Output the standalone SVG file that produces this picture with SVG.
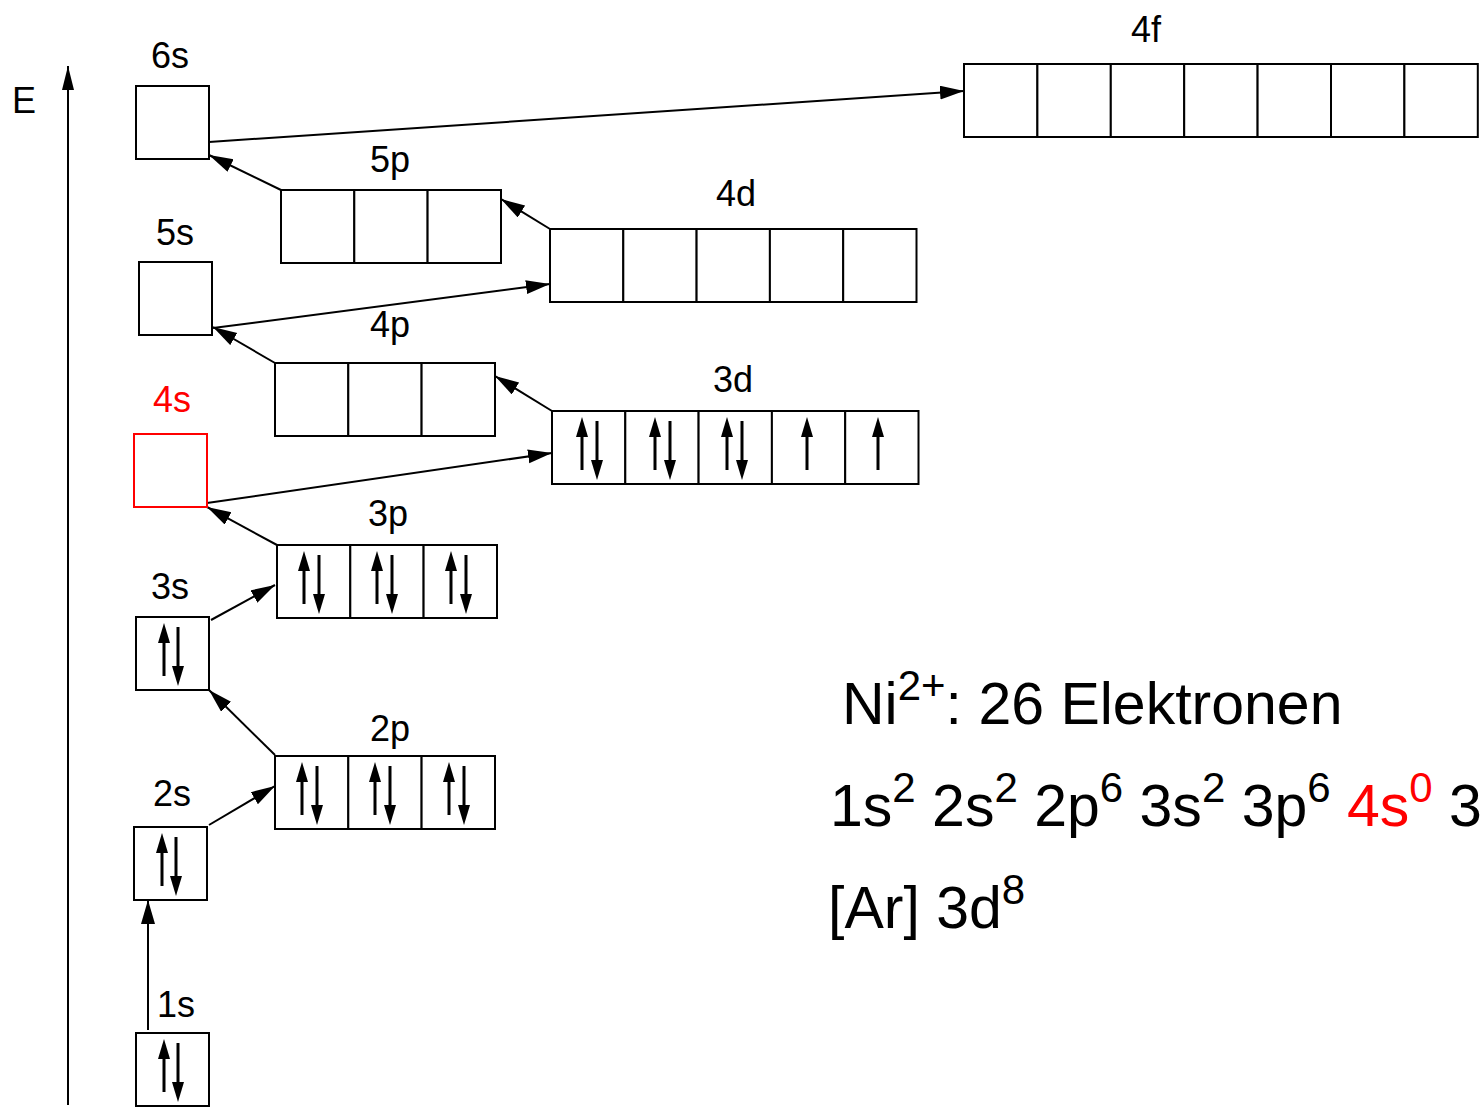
<svg xmlns="http://www.w3.org/2000/svg" xmlns:xlink="http://www.w3.org/1999/xlink" width="1483" height="1108" viewBox="0 0 1483 1108">
<style>
text{font-family:"Liberation Sans",Arial,sans-serif;fill:#000}
.lbl{font-size:36px;text-anchor:middle}
.big{font-size:59px}
.sup{font-size:42px}
.red{fill:#ff0000}
.cell{fill:#fff;stroke:#000;stroke-width:2}
.rcell{fill:#fff;stroke:#ff0000;stroke-width:2}
.con{stroke:#000;stroke-width:2;fill:none}
.spin{stroke:#000;stroke-width:3;fill:none}
</style>
<defs>
<marker id="ah" markerUnits="userSpaceOnUse" markerWidth="26" markerHeight="16" refX="24" refY="7" orient="auto">
<path d="M0,0 L24,7 L0,14 Z" fill="#000"/>
</marker>
<marker id="axh" markerUnits="userSpaceOnUse" markerWidth="26" markerHeight="14" refX="24" refY="6" orient="auto">
<path d="M0,0 L24,6 L0,12 Z" fill="#000"/>
</marker>
<symbol id="up" overflow="visible">
<line class="spin" x1="0" y1="59" x2="0" y2="22"/>
<path d="M0,6 L-6,26 L6,26 Z" fill="#000"/>
</symbol>
<symbol id="dn" overflow="visible">
<line class="spin" x1="0" y1="10" x2="0" y2="52"/>
<path d="M0,69 L-6,49 L6,49 Z" fill="#000"/>
</symbol>
</defs>

<g id="axis">
<line class="con" x1="68" y1="1105" x2="68" y2="66" marker-end="url(#axh)"/>
<text x="12" y="113" style="font-size:36px">E</text>
</g>

<g id="connectors">
<line class="con" x1="148" y1="1030" x2="148" y2="900" marker-end="url(#ah)"/>
<line class="con" x1="209" y1="825" x2="275" y2="786" marker-end="url(#ah)"/>
<line class="con" x1="275" y1="755" x2="209" y2="690" marker-end="url(#ah)"/>
<line class="con" x1="211" y1="620" x2="275" y2="585" marker-end="url(#ah)"/>
<line class="con" x1="277" y1="545" x2="207" y2="507" marker-end="url(#ah)"/>
<line class="con" x1="207" y1="503" x2="552" y2="453" marker-end="url(#ah)"/>
<line class="con" x1="552" y1="411" x2="495" y2="376" marker-end="url(#ah)"/>
<line class="con" x1="275" y1="363" x2="213" y2="327" marker-end="url(#ah)"/>
<line class="con" x1="213" y1="328" x2="550" y2="284" marker-end="url(#ah)"/>
<line class="con" x1="550" y1="229" x2="501" y2="199" marker-end="url(#ah)"/>
<line class="con" x1="281" y1="190" x2="209" y2="155" marker-end="url(#ah)"/>
<line class="con" x1="209" y1="142" x2="964" y2="91" marker-end="url(#ah)"/>
</g>

<g id="n1s">
<rect class="cell" x="136" y="1033" width="73" height="73"/>
<use xlink:href="#up" x="164" y="1033"/><use xlink:href="#dn" x="178" y="1033"/>
<text class="lbl" x="176" y="1017">1s</text>
</g>

<g id="n2s">
<rect class="cell" x="134" y="827" width="73" height="73"/>
<use xlink:href="#up" x="162" y="827"/><use xlink:href="#dn" x="176" y="827"/>
<text class="lbl" x="172" y="806">2s</text>
</g>

<g id="n2p">
<rect class="cell" x="275" y="756" width="73.3" height="73"/>
<rect class="cell" x="348.3" y="756" width="73.3" height="73"/>
<rect class="cell" x="421.6" y="756" width="73.4" height="73"/>
<use xlink:href="#up" x="302" y="756"/><use xlink:href="#dn" x="317" y="756"/>
<use xlink:href="#up" x="375" y="756"/><use xlink:href="#dn" x="390" y="756"/>
<use xlink:href="#up" x="449" y="756"/><use xlink:href="#dn" x="464" y="756"/>
<text class="lbl" x="390" y="741">2p</text>
</g>

<g id="n3s">
<rect class="cell" x="136" y="617" width="73" height="73"/>
<use xlink:href="#up" x="164" y="617"/><use xlink:href="#dn" x="178" y="617"/>
<text class="lbl" x="170" y="599">3s</text>
</g>

<g id="n3p">
<rect class="cell" x="277" y="545" width="73.3" height="73"/>
<rect class="cell" x="350.3" y="545" width="73.3" height="73"/>
<rect class="cell" x="423.6" y="545" width="73.4" height="73"/>
<use xlink:href="#up" x="304" y="545"/><use xlink:href="#dn" x="319" y="545"/>
<use xlink:href="#up" x="377" y="545"/><use xlink:href="#dn" x="392" y="545"/>
<use xlink:href="#up" x="451" y="545"/><use xlink:href="#dn" x="466" y="545"/>
<text class="lbl" x="388" y="526">3p</text>
</g>

<g id="n4s">
<rect class="rcell" x="134" y="434" width="73" height="73"/>
<text class="lbl red" x="172" y="412">4s</text>
</g>

<g id="n3d">
<rect class="cell" x="552" y="411" width="73.3" height="73"/>
<rect class="cell" x="625.3" y="411" width="73.3" height="73"/>
<rect class="cell" x="698.6" y="411" width="73.3" height="73"/>
<rect class="cell" x="771.9" y="411" width="73.3" height="73"/>
<rect class="cell" x="845.2" y="411" width="73.3" height="73"/>
<use xlink:href="#up" x="582" y="411"/><use xlink:href="#dn" x="597" y="411"/>
<use xlink:href="#up" x="655" y="411"/><use xlink:href="#dn" x="670" y="411"/>
<use xlink:href="#up" x="727" y="411"/><use xlink:href="#dn" x="742" y="411"/>
<use xlink:href="#up" x="807" y="411"/>
<use xlink:href="#up" x="878" y="411"/>
<text class="lbl" x="733" y="392">3d</text>
</g>

<g id="n4p">
<rect class="cell" x="275" y="363" width="73.3" height="73"/>
<rect class="cell" x="348.3" y="363" width="73.3" height="73"/>
<rect class="cell" x="421.6" y="363" width="73.4" height="73"/>
<text class="lbl" x="390" y="337">4p</text>
</g>

<g id="n5s">
<rect class="cell" x="139" y="262" width="73" height="73"/>
<text class="lbl" x="175" y="245">5s</text>
</g>

<g id="n4d">
<rect class="cell" x="550" y="229" width="73.3" height="73"/>
<rect class="cell" x="623.3" y="229" width="73.3" height="73"/>
<rect class="cell" x="696.6" y="229" width="73.3" height="73"/>
<rect class="cell" x="769.9" y="229" width="73.3" height="73"/>
<rect class="cell" x="843.2" y="229" width="73.3" height="73"/>
<text class="lbl" x="736" y="206">4d</text>
</g>

<g id="n5p">
<rect class="cell" x="281" y="190" width="73.3" height="73"/>
<rect class="cell" x="354.3" y="190" width="73.3" height="73"/>
<rect class="cell" x="427.6" y="190" width="73.4" height="73"/>
<text class="lbl" x="390" y="172">5p</text>
</g>

<g id="n6s">
<rect class="cell" x="136" y="86" width="73" height="73"/>
<text class="lbl" x="170" y="68">6s</text>
</g>

<g id="n4f">
<rect class="cell" x="964" y="64" width="73.4" height="73"/>
<rect class="cell" x="1037.4" y="64" width="73.4" height="73"/>
<rect class="cell" x="1110.8" y="64" width="73.4" height="73"/>
<rect class="cell" x="1184.2" y="64" width="73.4" height="73"/>
<rect class="cell" x="1257.6" y="64" width="73.4" height="73"/>
<rect class="cell" x="1331" y="64" width="73.4" height="73"/>
<rect class="cell" x="1404.4" y="64" width="73.4" height="73"/>
<text class="lbl" x="1146" y="42">4f</text>
</g>

<g id="config">
<text class="big" x="842" y="724">Ni<tspan class="sup" dy="-24">2+</tspan><tspan dy="24">: 26 Elektronen</tspan></text>
<text class="big" x="830" y="826">1s<tspan class="sup" dy="-24">2</tspan><tspan dy="24"> 2s</tspan><tspan class="sup" dy="-24">2</tspan><tspan dy="24"> 2p</tspan><tspan class="sup" dy="-24">6</tspan><tspan dy="24"> 3s</tspan><tspan class="sup" dy="-24">2</tspan><tspan dy="24"> 3p</tspan><tspan class="sup" dy="-24">6</tspan><tspan dy="24"> </tspan><tspan class="red">4s</tspan><tspan class="sup red" dy="-24">0</tspan><tspan dy="24"> 3d</tspan><tspan class="sup" dy="-24">8</tspan></text>
<text class="big" x="828" y="928">[Ar] 3d<tspan class="sup" dy="-24">8</tspan></text>
</g>
</svg>
